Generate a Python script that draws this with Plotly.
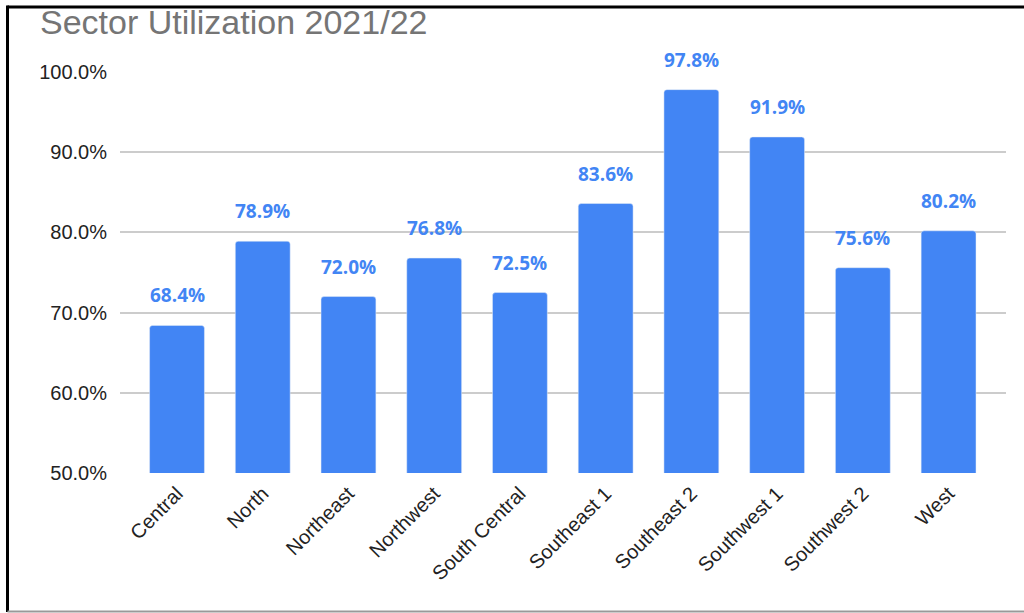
import plotly.graph_objects as go

# Sector utilization figures (percent)
sectors = ["Central", "North", "Northeast", "Northwest", "South Central",
           "Southeast 1", "Southeast 2", "Southwest 1", "Southwest 2", "West"]
utilization = [68.4, 78.9, 72.0, 76.8, 72.5, 83.6, 97.8, 91.9, 75.6, 80.2]
y_ticks = [50, 60, 70, 80, 90, 100]
y_tick_labels = [f"{v:.1f}%" for v in y_ticks]

BLUE = "#4285F4"

fig = go.Figure(
    go.Bar(
        x=sectors,
        y=utilization,
        marker=dict(color=BLUE, cornerradius=3),
        width=0.64,
        hoverinfo="x+y",
    )
)

# Value labels above each bar
for s, v in zip(sectors, utilization):
    fig.add_annotation(
        x=s, y=v, text=f"{v:.1f}%", showarrow=False,
        yshift=30, yanchor="middle",
        font=dict(family="Open Sans", size=19, color=BLUE, weight="bold"),
    )

# Frame: top and left black edges, bottom grey edge
L, R, T, B = 120, 1006, 72, 473
def px_x(p):
    return (p - L) / (R - L)
def px_y(p):
    return (B - p) / (B - T)

fig.add_shape(type="line", xref="paper", yref="paper",
              x0=px_x(7.5), x1=px_x(1030), y0=px_y(7), y1=px_y(7),
              line=dict(color="black", width=3))
fig.add_shape(type="line", xref="paper", yref="paper",
              x0=px_x(7.5), x1=px_x(7.5), y0=px_y(5.5), y1=px_y(612),
              line=dict(color="black", width=3))
fig.add_shape(type="line", xref="paper", yref="paper",
              x0=px_x(7.5), x1=px_x(1030), y0=px_y(611.5), y1=px_y(611.5),
              line=dict(color="#999999", width=2))

# Chart title
fig.add_annotation(
    text="Sector Utilization 2021/22", showarrow=False,
    xref="paper", yref="paper", x=px_x(38), y=px_y(22),
    xanchor="left", yanchor="middle",
    font=dict(family="Liberation Sans, Arial", size=34, color="#757575"),
)

fig.update_layout(
    width=1024, height=613,
    margin=dict(l=L, r=1024 - R, t=T, b=613 - B),
    paper_bgcolor="white", plot_bgcolor="white",
    showlegend=False,
    xaxis=dict(
        range=[-0.665, 9.67],
        tickangle=-45,
        tickfont=dict(family="Liberation Sans, Arial", size=20, color="#222222"),
        showgrid=False, showline=False, ticks="",
        ticklabelstandoff=4,
    ),
    yaxis=dict(
        range=[50, 100],
        tickvals=y_ticks, ticktext=y_tick_labels,
        tickfont=dict(family="Liberation Sans, Arial", size=20, color="#222222"),
        showgrid=True, gridcolor="#cccccc", gridwidth=1.5,
        zeroline=False, showline=False, ticks="",
        ticklabelstandoff=12,
    ),
)

fig.write_html("out.html")
